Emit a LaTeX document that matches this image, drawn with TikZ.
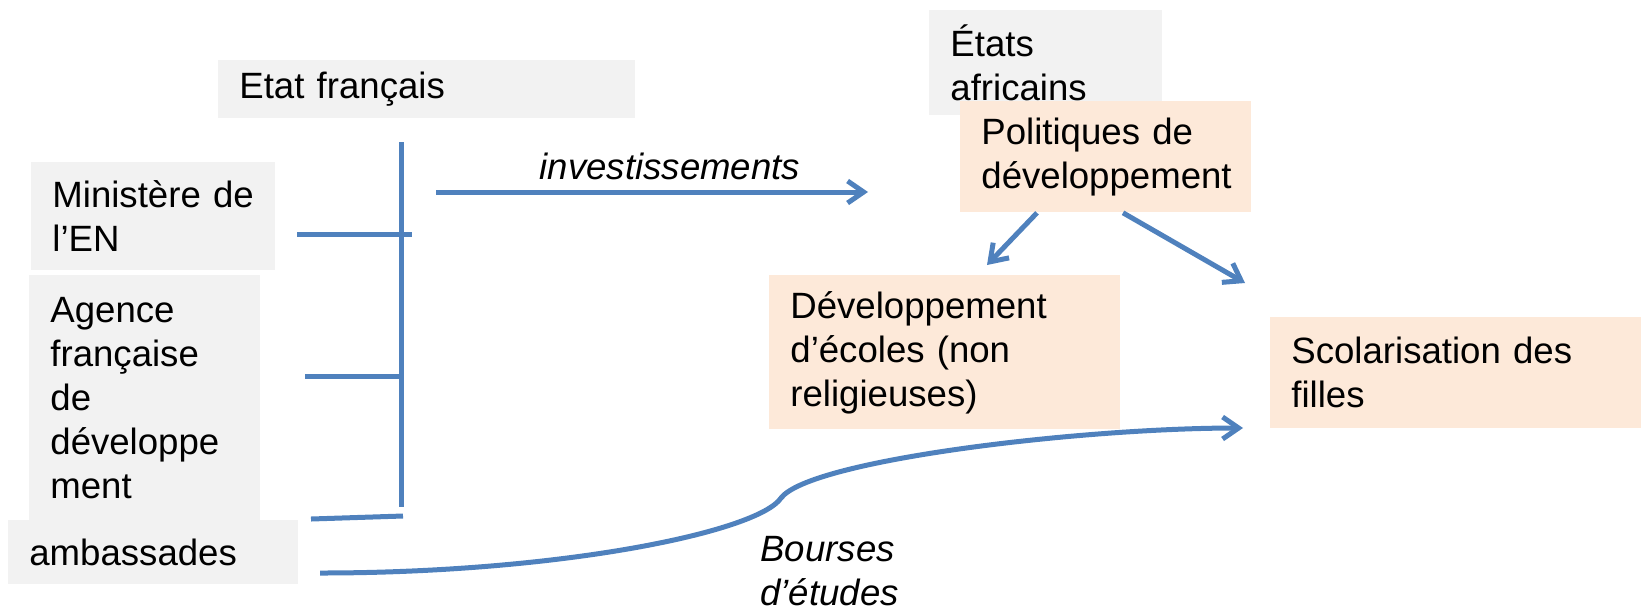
\documentclass[tikz,border=0pt]{standalone}
\usepackage{fontspec}
\setmainfont{Liberation Sans}
\usetikzlibrary{positioning,arrows.meta}

\definecolor{lineblue}{HTML}{4F81BD}
\definecolor{boxgray}{HTML}{F2F2F2}
\definecolor{boxpeach}{HTML}{FDE9D9}

\begin{document}
\begin{tikzpicture}[x=0.5pt,y=-0.5pt]
        \tikzset{box/.style={fill=boxgray,anchor=north west,align=left,inner xsep=10.5pt,inner ysep=0pt,font=\fontsize{18.3pt}{22pt}\selectfont}}
        \tikzset{peach/.style={box,fill=boxpeach}}
        \tikzset{link/.style={draw=lineblue,line width=2.5pt}}
        \tikzset{vec/.style={link,-{Straight Barb[length=8pt,width=11pt]}}}
        \tikzset{lbl/.style={inner sep=0pt,align=left,font=\fontsize{18.3pt}{22pt}\selectfont\itshape}}

        \useasboundingbox (0,0) rectangle (1641,612);

        % French side
        \node[box,text width=187.5pt,minimum height=29pt] (etat) at (218,60) {Etat français};
        \node[box,text width=101pt,minimum height=54pt] (min) at (31,162) {Ministère~de\\l’EN};
        \node[box,text width=94.5pt,minimum height=122.5pt] (afd) at (29,275) {Agence\\française\\de\\développe\\ment};
        \node[box,text width=124pt,minimum height=32pt] (amb) at (8,520) {ambassades};

        % African side
        \node[box,text width=95.5pt,minimum height=52.5pt] (etats) at (929,10) {États\\africains};
        \node[peach,text width=124.5pt,minimum height=55.5pt] (pol) at (960,101) {Politiques~de\\développement};
        \node[peach,text width=154.5pt,minimum height=77pt] (dev) at (769,275) {Développement\\d’écoles (non\\religieuses)};
        \node[peach,text width=164.5pt,minimum height=55.5pt] (scol) at (1270,317) {Scolarisation des\\filles};

        % bracket
        \coordinate (brtop) at (401,142);
        \coordinate (brbot) at (401,507);
        \coordinate (tmin) at (297,234);
        \coordinate (tafd) at (305,376);
        \coordinate (tamb) at (311,519);
        \draw[link] (brtop) -- (brbot);
        \draw[link] (tmin) -- (412,234);
        \draw[link] (tafd) -- (brtop |- tafd);
        \draw[link] (tamb) -- (403,516);

        % flows
        \coordinate (invfrom) at (436,192);
        \coordinate (invto) at (868,192);
        \draw[vec] (invfrom) -- (invto);
        \node[lbl,anchor=base] (inv) at (670,179) {investissements};

        \coordinate (tipdev) at (987,265);
        \coordinate (tipscol) at (1245,283);
        \draw[vec] ([shift={(77,0)}]pol.south west) -- (tipdev);
        \draw[vec] ([shift={(163,0)}]pol.south west) -- (tipscol);

        \coordinate (bfrom) at (320,573);
        \coordinate (bmid) at (781,498);
        \coordinate (bto) at (1243,428);
        \draw[vec] (bfrom) .. controls (560,573) and (758,532) .. (bmid)
            .. controls (810,460) and (1080,428) .. (bto);
        \node[lbl,anchor=north west] (bourses) at (760,536) {Bourses\\d’études};
    \end{tikzpicture}
\end{document}
